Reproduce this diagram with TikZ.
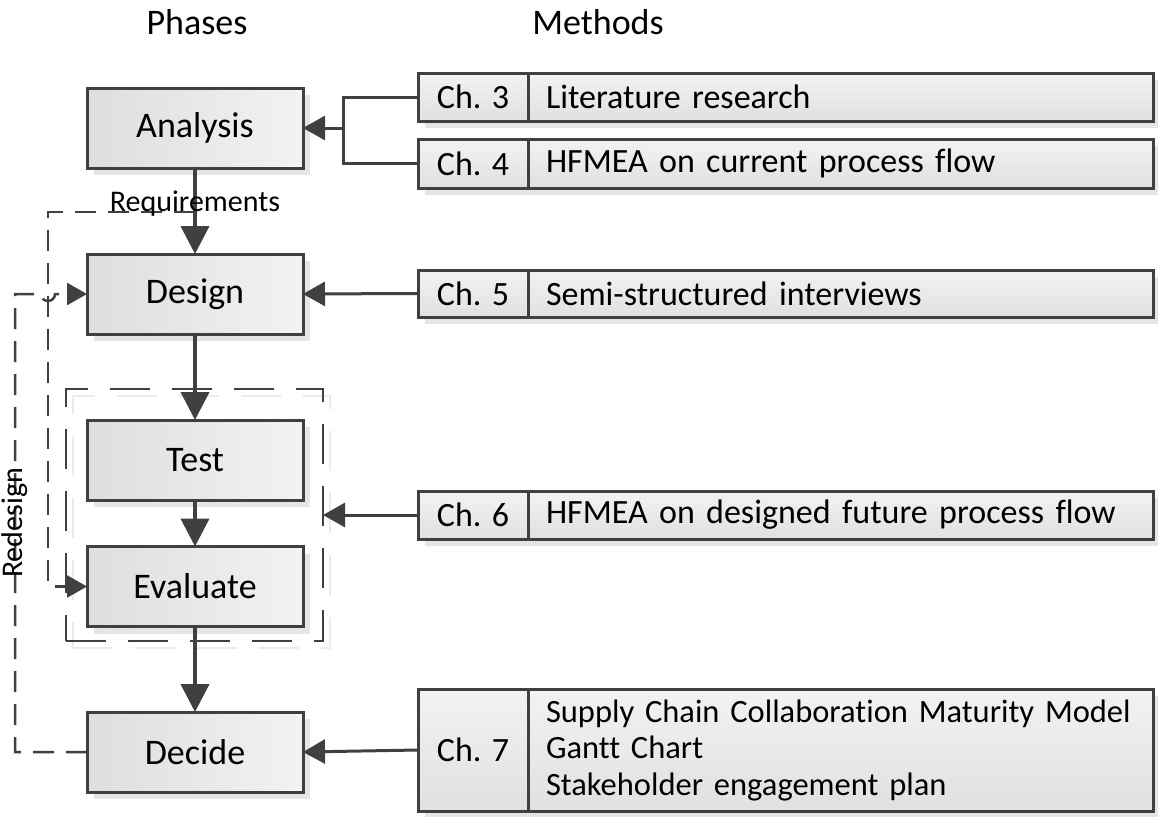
\documentclass[tikz,border=0pt]{standalone}
\usepackage{fontspec}
\setmainfont{Carlito}[Ligatures=NoCommon]
\usetikzlibrary{arrows.meta,shadows}
\definecolor{ink}{HTML}{404040}
\begin{document}
\begin{tikzpicture}[x=1pt,y=-1pt,
  boxshadow/.style={drop shadow={shadow xshift=7pt, shadow yshift=-7pt, fill=black!10, opacity=1}},
  phase/.style={draw=ink, line width=3pt, left color=black!13, right color=black!5,
    minimum width=216pt, minimum height=80pt, inner sep=0pt, outer sep=0pt,
    font=\fontsize{36}{43}\selectfont, boxshadow},
  chcell/.style={draw=ink, line width=3pt, top color=black!5, bottom color=black!12,
    minimum width=110pt, inner sep=0pt, outer sep=0pt,
    font=\fontsize{34}{40}\selectfont, boxshadow},
  desccell/.style={draw=ink, line width=3pt, top color=black!5, bottom color=black!12,
    minimum width=625pt, text width=589pt, inner xsep=18pt, inner ysep=0pt, outer sep=0pt,
    align=left, font=\fontsize{34}{37}\selectfont, boxshadow},
  header/.style={font=\fontsize{36}{43}\selectfont},
  flow/.style={draw=ink, line width=4pt, -{Triangle[length=28pt,width=28pt]}},
  feed/.style={draw=ink, line width=3pt, -{Triangle[length=22pt,width=24pt]}},
  bracketline/.style={draw=ink, line width=3pt},
  fbline/.style={draw=ink, line width=2.5pt, dash pattern=on 21pt off 12pt},
  fbarrow/.style={fbline, -{Triangle[length=20pt,width=22pt]}},
  fblabel/.style={font=\fontsize{30}{36}\selectfont, inner sep=0pt},
  grpframe/.style={draw=ink, line width=2.5pt, dash pattern=on 40pt off 22pt,
    minimum width=257pt, minimum height=252pt, inner sep=0pt, outer sep=0pt},
]
\useasboundingbox (0,0) rectangle (1158,816);

% column headers
\node[header] (hphases) at (197,22) {Phases};
\node[header] (hmethods) at (598,22) {Methods};

% dashed frame around the test / evaluate phases (with a faint shadow)
\node[grpframe, draw=black!8] (grpshadow) at (201.5,522) {};
\node[grpframe] (grp) at (194.5,515) {};

% phases
\node[phase] (analysis) at (195,128) {Analysis};
\node[phase] (design)   at (195,294) {Design};
\node[phase] (test)     at (195,460) {Test};
\node[phase] (evaluate) at (195,586.5) {Evaluate};
\node[phase] (decide)   at (195,752) {Decide};

% methods per chapter
\node[chcell, minimum height=48pt] (ch3) at (473,97) {Ch. 3};
\node[desccell, minimum height=48pt] (m3) at (840.5,97) {Literature research};
\node[chcell, minimum height=49pt] (ch4) at (473,163.5) {Ch. 4};
\node[desccell, minimum height=49pt] (m4) at (840.5,163.5) {HFMEA on current process flow};
\node[chcell, minimum height=47pt] (ch5) at (473,293.5) {Ch. 5};
\node[desccell, minimum height=47pt] (m5) at (840.5,293.5) {Semi-structured interviews};
\node[chcell, minimum height=48pt] (ch6) at (473,515) {Ch. 6};
\node[desccell, minimum height=48pt] (m6) at (840.5,515) {HFMEA on designed future process flow};
\node[chcell, minimum height=122pt] (ch7) at (473,750) {Ch. 7};
\node[desccell, minimum height=122pt, font=\fontsize{32.5}{36.5}\selectfont] (m7) at (840.5,750)
  {\mbox{Supply Chain Collaboration Maturity Model}\\Gantt Chart\\Stakeholder engagement plan};

% main flow
\draw[flow] (analysis.south) -- (design.north);
\draw[flow] (design.south) -- (test.north);
\draw[flow] (test.south) -- (evaluate.north);
\draw[flow] (evaluate.south) -- (decide.north);

% methods feeding the phases
\coordinate (j34) at (343,128);
\draw[bracketline] (ch3.west) -| (j34) |- (ch4.west);
\draw[feed] (j34) -- (analysis.east);
\draw[feed] (ch5.west) -- (design.east);
\draw[feed] (ch6.west) -- (grp.east);
\draw[feed] (ch7.west) -- (decide.east);

% requirements loop
\coordinate (rq) at (195,212);
\coordinate (rqc) at (48,212);
\draw[fbarrow] (rq) -- (rqc) |- (evaluate.west);
\node[fblabel] (lreq) at (195,204) {Requirements};

% redesign loop, hopping over the requirements line
\coordinate (rdc) at (15,294);
\coordinate (hop) at (41,294);
\draw[fbarrow] (decide.west) -| (rdc) -- (hop)
  arc[start angle=180, end angle=360, radius=7pt] -- (design.west);
\node[fblabel, rotate=90] (lred) at (15,523) {Redesign};
\end{tikzpicture}
\end{document}
